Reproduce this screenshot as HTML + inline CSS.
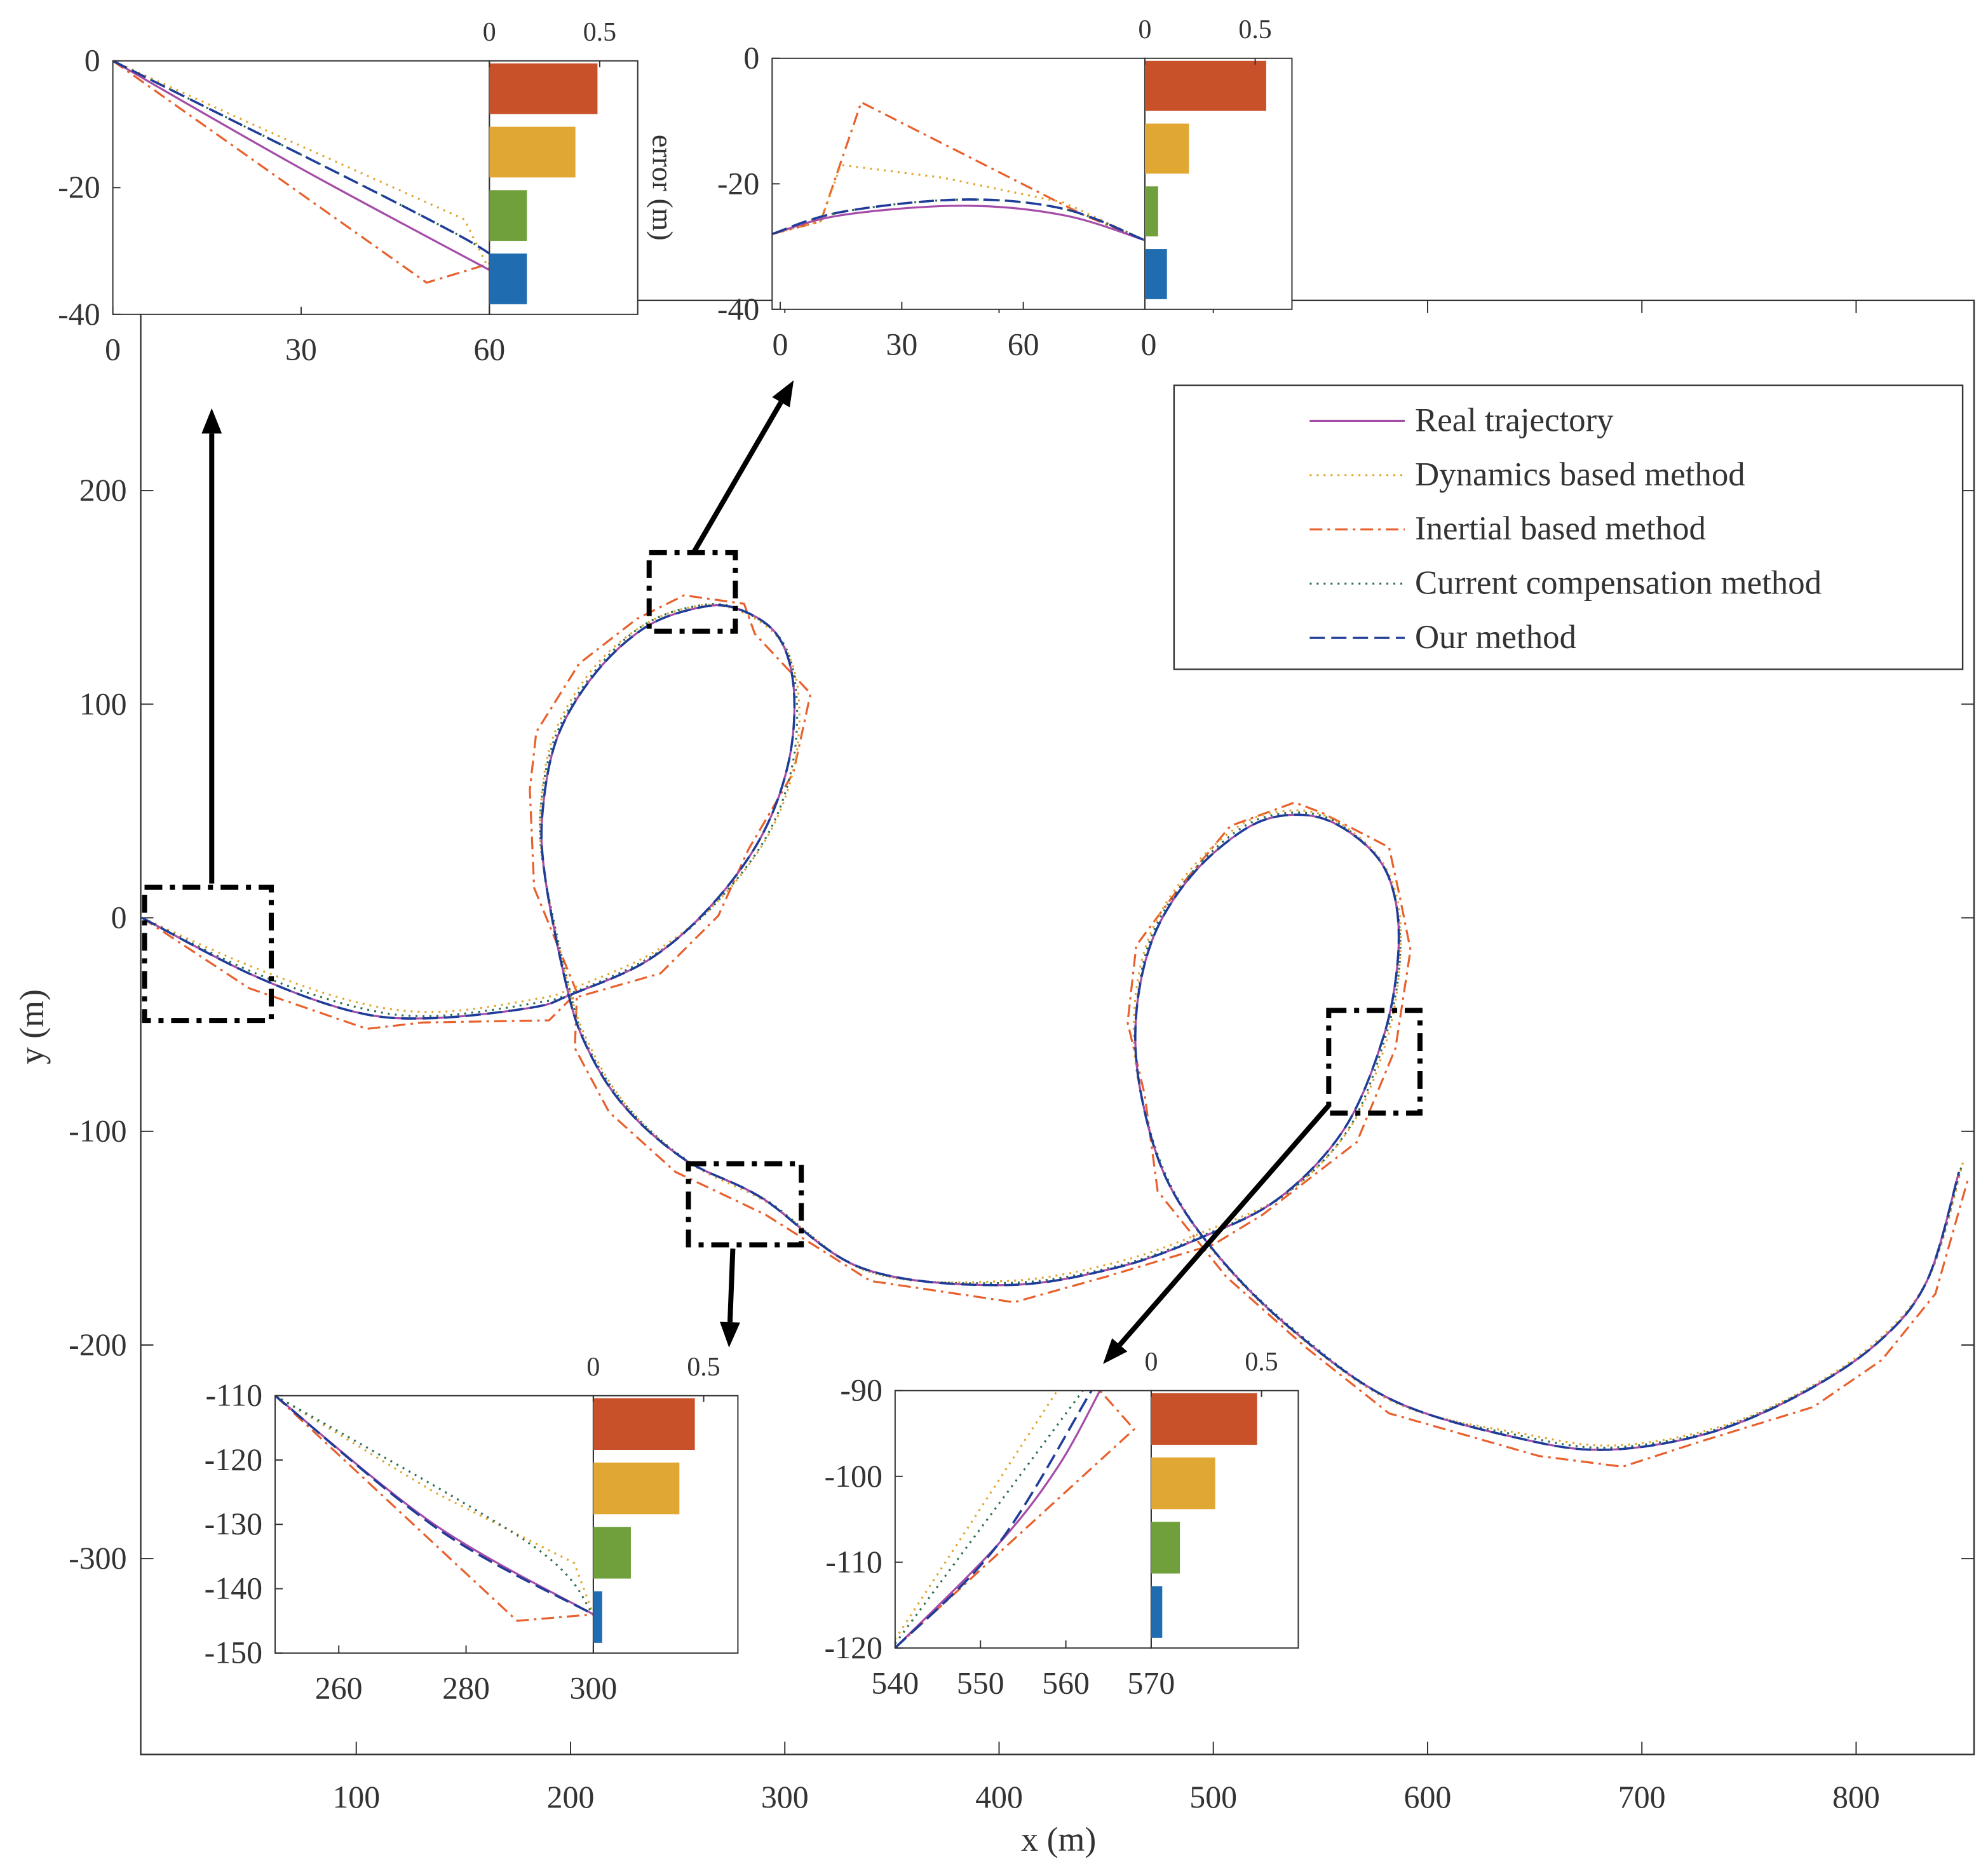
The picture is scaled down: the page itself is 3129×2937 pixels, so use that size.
<!DOCTYPE html>
<html><head><meta charset="utf-8"><style>
html,body{margin:0;padding:0;background:#fff}
svg{display:block}
text{font-family:"Liberation Serif",serif;fill:#333}
</style></head><body>
<svg id="fig" width="3129" height="2937" viewBox="0 0 1568 1472" preserveAspectRatio="none" xmlns="http://www.w3.org/2000/svg"></svg>
<script>
// ---- main chart data ----
const realX=[0,52,99,135,182,200,236,265,289,302,304,296,277,259,235,212,194,187,188,197,206,224,253,289,336,401,454,496,531,561,579,586,585,576,555,534,514,490,472,464,466,478,502,537,584,644,685,732,774,810,833,848];
const realY=[0,-27,-44,-47,-42,-36,-20,5,38,74,109,133,145,145,136,115,85,50,20,-27,-57,-87,-113,-131,-164,-172,-164,-149,-131,-99,-57,-21,8,29,45,48,41,20,-9,-45,-81,-122,-158,-193,-226,-244,-249,-241,-223,-199,-170,-119];
const dynDX=[0,2,3,4,2,1,3,4,4,3,2,1,1,0,-1,-2,-2,-1,0,1,2,3,3,4,4,3,2,2,3,3,2,1,1,0,-1,-1,-2,-2,-2,-1,0,1,2,3,3,3,2,2,2,2,2,2];
const dynDY=[0,3,4,3,4,3,4,3,2,0,-1,-2,-1,1,1,1,0,0,0,-1,-1,-2,-2,-3,-2,2,3,3,2,1,0,0,0,1,2,2,2,1,0,0,-1,-2,-3,-3,-2,2,2,2,2,3,4,5];
const inDX=[0,-2,6,-4,8,0,6,4,-6,2,8,-10,4,-6,-4,-8,-10,-6,-5,6,-4,-6,-4,2,4,6,-4,4,-8,6,6,6,2,6,-4,4,-6,-6,-8,-4,2,-4,4,6,-2,8,6,-4,6,2,4,4];
const inDY=[0,-6,-8,-2,-6,-2,-6,-4,-6,-6,-4,0,2,6,4,4,2,10,-6,-8,-4,-4,-6,-8,-6,-8,-4,-4,-8,-6,-4,6,2,4,4,6,2,-6,-4,-4,-2,-6,-10,-8,-6,-8,-8,-4,-6,-8,-6,-4];
const curDX=[0,1,2,1,1,1,2,2,3,2,1,1,0,0,-1,-1,-1,-1,0,1,1,2,2,2,2,2,1,1,2,2,1,1,0,0,0,0,-1,-1,-1,0,0,1,1,2,2,2,1,1,1,1,1,1];
const curDY=[0,1,2,1,2,1,2,1,1,0,0,-1,0,1,1,0,0,0,0,0,-1,-1,-1,-1,-1,1,1,1,1,0,0,0,0,0,1,1,1,0,0,0,0,-1,-1,-1,-1,1,1,1,1,1,2,2];
const xTicks=[100,200,300,400,500,600,700,800];
const yTicks=[200,100,0,-100,-200,-300];
// ---- inset data ----
const inset1={real:[[0,0],[30,-17],[60,-33]],dyn:[[0,0],[20,-9],[56,-25],[60,-33]],iner:[[0,0],[50,-35],[60,-32]],cur:[[0,0],[56,-28],[60,-33]],ours:[[0,0],[56,-28],[60,-33]]};
const inset2={real:[[-2,-28],[15,-25],[45,-23.5],[70,-25],[90,-29]],dyn:[[-2,-28],[10,-26],[15,-17],[40,-19],[70,-23],[90,-29]],iner:[[-2,-28],[10,-26],[20,-7],[75,-25],[90,-29]],cur:[[-2,-28],[15,-24.5],[45,-22.5],[70,-24],[90,-29]],ours:[[-2,-28],[15,-24.5],[45,-22.5],[70,-24],[90,-29]]};
const inset3={real:[[250,-110],[275,-130],[300,-144]],dyn:[[250,-110],[275,-125],[297,-136],[300,-144]],iner:[[250,-110],[288,-145],[300,-144]],cur:[[250,-110],[290,-133],[300,-144]],ours:[[250,-110],[276,-131],[300,-144]]};
const inset4={real:[[540,-120],[552,-108],[559,-99],[564,-90]],dyn:[[540,-119],[559,-90]],iner:[[540,-120],[568,-94.5],[564,-90]],cur:[[540,-119.5],[562,-90]],ours:[[540,-120],[552,-108],[563,-90]]};
const err1=[0.49,0.39,0.17,0.17];
const err2=[0.55,0.2,0.06,0.1];
const err3=[0.46,0.39,0.17,0.04];
const err4=[0.48,0.29,0.13,0.05];
const seriesNames=["Real trajectory","Dynamics based method","Inertial based method","Current compensation method","Our method"];

const NS="http://www.w3.org/2000/svg",svg=document.getElementById('fig');
function el(t,a,p){const e=document.createElementNS(NS,t);for(const k in a)e.setAttribute(k,a[k]);(p||svg).appendChild(e);return e;}
function txt(s,x,y,a,p){const e=el('text',Object.assign({x:x,y:y},a),p);e.textContent=s;return e;}
function smooth(pts){if(pts.length<3)return pts.map((p,i)=>(i?'L':'M')+p[0].toFixed(1)+','+p[1].toFixed(1)).join('');
 let d='M'+pts[0][0].toFixed(1)+','+pts[0][1].toFixed(1);
 for(let i=0;i<pts.length-1;i++){const p0=pts[Math.max(0,i-1)],p1=pts[i],p2=pts[i+1],p3=pts[Math.min(pts.length-1,i+2)];
  const c1=[p1[0]+(p2[0]-p0[0])/6,p1[1]+(p2[1]-p0[1])/6],c2=[p2[0]-(p3[0]-p1[0])/6,p2[1]-(p3[1]-p1[1])/6];
  d+='C'+c1[0].toFixed(1)+','+c1[1].toFixed(1)+' '+c2[0].toFixed(1)+','+c2[1].toFixed(1)+' '+p2[0].toFixed(1)+','+p2[1].toFixed(1);}
 return d;}
function poly(pts){return pts.map((p,i)=>(i?'L':'M')+p[0].toFixed(1)+','+p[1].toFixed(1)).join('');}
const styles={
 real:{stroke:'#A54CA8','stroke-width':1.6},
 dyn:{stroke:'#E2A52C','stroke-width':1.6,'stroke-dasharray':'1.5 4'},
 iner:{stroke:'#E8602C','stroke-width':1.6,'stroke-dasharray':'10 4 2 4'},
 cur:{stroke:'#2C6E4E','stroke-width':1.6,'stroke-dasharray':'1.5 4'},
 ours:{stroke:'#1F3C98','stroke-width':1.8,'stroke-dasharray':'12 5'}
};
const barCols=['#C8512A','#E0A832','#6FA03C','#1F6CB0'];

// main axes
const X0=111,X1=1557,Y0=237,Y1=1384;
const sx=v=>112+v*1.69, sy=v=>724-v*1.685;
const main=el('g',{});  
el('rect',{x:X0,y:Y0,width:X1-X0,height:Y1-Y0,fill:'none',stroke:'#333','stroke-width':1.2},main);
xTicks.forEach(t=>{const x=sx(t);el('line',{x1:x,x2:x,y1:Y1,y2:Y1-10,stroke:'#333'},main);el('line',{x1:x,x2:x,y1:Y0,y2:Y0+10,stroke:'#333'},main);
 const l=txt(t,x,1426,{'font-size':25,'text-anchor':'middle'},main);});
yTicks.forEach(t=>{const y=sy(t);el('line',{x1:X0,x2:X0+10,y1:y,y2:y,stroke:'#333'},main);el('line',{x1:X1,x2:X1-10,y1:y,y2:y,stroke:'#333'},main);
 const l=txt(t,100,y+8,{'font-size':25,'text-anchor':'end'},main);});
const xl=txt('x (m)',835,1460,{'font-size':27,'text-anchor':'middle'});
const yl=txt('y (m)',0,0,{'font-size':27,'text-anchor':'middle',transform:'translate(34,810) rotate(-90)'});

function pathMain(dx,dy,st,name,sm){const pts=realX.map((v,i)=>[sx(v+(dx?dx[i]:0)),sy(realY[i]+(dy?dy[i]:0))]);
 const p=el('path',Object.assign({d:sm?smooth(pts):poly(pts),fill:'none'},st),main);}
pathMain(inDX,inDY,styles.iner,'inertial-line',false);
pathMain(dynDX,dynDY,styles.dyn,'dynamics-line',true);
pathMain(curDX,curDY,styles.cur,'current-compensation-line',true);
pathMain(null,null,styles.real,'real-trajectory-line',true);
pathMain(null,null,styles.ours,'our-method-line',true);

// zoom boxes & arrows (annotations)
[[114,700,214,805],[512,436,580,498],[543,918,632,982],[1048,797,1120,878]].forEach(b=>{
 const r=el('rect',{x:b[0],y:b[1],width:b[2]-b[0],height:b[3]-b[1],fill:'none',stroke:'#000','stroke-width':4,'stroke-dasharray':'14 6 4 6'});
 });
[[167,697,167,322],[547,436,626,300],[578,985,575,1063],[1048,872,870,1076]].forEach(a=>{
 const ang=Math.atan2(a[3]-a[1],a[2]-a[0]),L=20,W=8;
 const bx=a[2]-L*Math.cos(ang),by=a[3]-L*Math.sin(ang);
 const g=el('g',{});
 el('line',{x1:a[0],y1:a[1],x2:bx,y2:by,stroke:'#000','stroke-width':4},g);
 el('polygon',{points:`${a[2]},${a[3]} ${bx+W*Math.sin(ang)},${by-W*Math.cos(ang)} ${bx-W*Math.sin(ang)},${by+W*Math.cos(ang)}`,fill:'#000'},g);});

// legend
const lg=el('g',{});
el('rect',{x:926,y:304,width:622,height:224,fill:'#fff',stroke:'#333','stroke-width':1.2},lg);
['real','dyn','iner','cur','ours'].forEach((k,i)=>{const y=332+i*42.8;
 const e=el('g',{},lg);
 el('line',Object.assign({x1:1033,x2:1108,y1:y,y2:y},styles[k]),e);
 txt(seriesNames[i],1116,y+8,{'font-size':26.5,fill:'#111'},e);});

// insets
function inset(name,box,xl,yl,xt,yt,data,err,bar,xTickLbl,errLabel){
 const g=el('g',{});
 const [L,T,R,B]=box,bR=bar;
 el('rect',{x:L,y:T,width:bR-L,height:B-T,fill:'#fff',stroke:'none'},g);
 const fx=v=>L+(v-xl[0])/(xl[1]-xl[0])*(R-L), fy=v=>T+(yl[1]-v)/(yl[1]-yl[0])*(B-T);
 const cp=el('clipPath',{id:name+'-clip'},g);el('rect',{x:L,y:T,width:R-L,height:B-T},cp);
 ['iner','dyn','cur','real','ours'].forEach(k=>{const pts=data[k].map(p=>[fx(p[0]),fy(p[1])]);
  const p=el('path',Object.assign({d:k==='iner'||k==='dyn'?poly(pts):smooth(pts),fill:'none','clip-path':`url(#${name}-clip)`},styles[k]),g);});
 el('rect',{x:L,y:T,width:R-L,height:B-T,fill:'none',stroke:'#333','stroke-width':1},g);
 el('rect',{x:R,y:T,width:bR-R,height:B-T,fill:'none',stroke:'#333','stroke-width':1},g);
 xt.forEach(t=>{const x=fx(t);el('line',{x1:x,x2:x,y1:B,y2:B-6,stroke:'#333'},g);const l=txt(t,x,B+36,{'font-size':25,'text-anchor':'middle'},g);});
 yt.forEach(t=>{const y=fy(t);el('line',{x1:L,x2:L+6,y1:y,y2:y,stroke:'#333'},g);const l=txt(t,L-10,y+8,{'font-size':25,'text-anchor':'end'},g);});
 const bs=v=>R+v*174, bh=(B-T)/4;
 err.forEach((v,i)=>{const r=el('rect',{x:R,y:T+i*bh+2,width:bs(v)-R,height:bh-10,fill:barCols[i]},g);});
 [0,0.5].forEach(t=>{const x=bs(t);el('line',{x1:x,x2:x,y1:T,y2:T+5,stroke:'#333'},g);txt(t,x,T-16,{'font-size':21,'text-anchor':'middle'},g);});
 if(xTickLbl){txt('0',R+3,B+36,{'font-size':25,'text-anchor':'middle'},g);}
 if(errLabel){const e=txt('error (m)',0,0,{'font-size':23,'text-anchor':'middle',transform:`translate(${bR+12},${(T+B)/2}) rotate(90)`},g);}
}
inset('inset-start',[89,48,386,248],[0,60],[-40,0],[0,30,60],[0,-20,-40],inset1,err1,503,false,true);
inset('inset-top',[609,46,903,244],[-2,90],[-40,0],[0,30,60],[0,-20,-40],inset2,err2,1019,true,false);
inset('inset-bottom-left',[217,1101,468,1304],[250,300],[-150,-110],[260,280,300],[-110,-120,-130,-140,-150],inset3,err3,582,false,false);
inset('inset-bottom-right',[706,1097,908,1300],[540,570],[-120,-90],[540,550,560,570],[-90,-100,-110,-120],inset4,err4,1024,false,false);
</script>
</body></html>
